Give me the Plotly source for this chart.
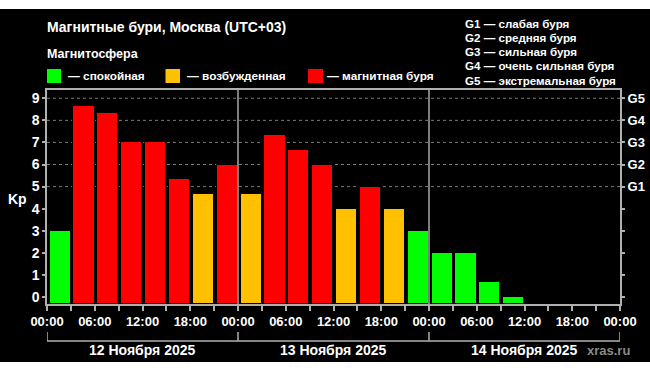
import plotly.graph_objects as go

# ---- data ----
hours = [0, 3, 6, 9, 12, 15, 18, 21,
         24, 27, 30, 33, 36, 39, 42, 45,
         48, 51, 54, 57]
kp = [3, 8.67, 8.33, 7, 7, 5.33, 4.67, 6,
      4.67, 7.33, 6.67, 6, 4, 5, 4, 3,
      2, 2, 0.67, 0]
day_labels = ["12 Ноября 2025", "13 Ноября 2025", "14 Ноября 2025"]
day_starts = [0, 24, 48, 72]
tick_hours = list(range(0, 73, 3))
g_levels = [5, 6, 7, 8, 9]
g_names = ["G1", "G2", "G3", "G4", "G5"]
g_desc = ["G1 — слабая буря", "G2 — средняя буря", "G3 — сильная буря",
          "G4 — очень сильная буря", "G5 — экстремальная буря"]
legend_items = [("— спокойная", "#00FF00"), ("— возбужденная", "#FFC000"),
                ("— магнитная буря", "#FF0000")]

GREEN, YELLOW, RED = "#00FF00", "#FFC000", "#FF0000"
def color_for(v):
    if v < 4:
        return GREEN
    if v < 5:
        return YELLOW
    return RED

W, H = 650, 372
L, R, T, B = 47, 30, 90, 68
PW, PH = W - L - R, H - T - B
def px(x):
    return (x - L) / PW
def py(y):
    return (H - B - y) / PH

YMIN, YMAX = -0.32, 9.375
FONT = "Liberation Sans"

fig = go.Figure()
fig.add_trace(go.Bar(
    x=[h + 1.65 for h in hours],
    y=[v - YMIN for v in kp],
    base=YMIN,
    width=2.66,
    marker=dict(color=[color_for(v) for v in kp], line=dict(color="#000000", width=1)),
    hoverinfo="skip",
    showlegend=False,
))
# invisible trace for right axis
fig.add_trace(go.Scatter(x=[0], y=[0], yaxis="y2", mode="markers",
                         marker=dict(opacity=0), showlegend=False, hoverinfo="skip"))

shapes = []
# black background panel
shapes.append(dict(type="rect", xref="paper", yref="paper",
                   x0=px(0), x1=px(W), y0=py(362), y1=py(9),
                   fillcolor="#000000", line=dict(width=0), layer="below"))
# dotted grid at G levels
for g in g_levels:
    shapes.append(dict(type="line", xref="paper", yref="y", x0=0, x1=1, y0=g, y1=g,
                       line=dict(color="#7a7a7a", width=1, dash="dot"), layer="below"))
# day separators
for d in day_starts[1:-1]:
    shapes.append(dict(type="line", xref="x", yref="paper", x0=d, x1=d, y0=0, y1=1,
                       line=dict(color="#a8a8a8", width=1.5), layer="above"))
# date bracket
shapes.append(dict(type="line", xref="x", yref="paper", x0=day_starts[0], x1=day_starts[-1],
                   y0=py(341), y1=py(341), line=dict(color="#b0b0b0", width=1.5)))
for d in day_starts:
    shapes.append(dict(type="line", xref="x", yref="paper", x0=d, x1=d,
                       y0=py(341), y1=py(332), line=dict(color="#b0b0b0", width=1.5)))
# legend squares
sq = [(47, 61), (165.5, 180), (308, 323)]
for (x0, x1), (_, c) in zip(sq, legend_items):
    shapes.append(dict(type="rect", xref="paper", yref="paper",
                       x0=px(x0), x1=px(x1), y0=py(83), y1=py(69),
                       fillcolor=c, line=dict(width=0)))

ann = []
def text(x, y, s, size=12, color="#ffffff", xanchor="left"):
    ann.append(dict(x=px(x), y=py(y), xref="paper", yref="paper", text=s, showarrow=False,
                    xanchor=xanchor, yanchor="middle",
                    font=dict(family=FONT, size=size, color=color, weight="bold")))

text(45, 27, "Магнитные бури, Москва (UTC+03)", size=14)
text(45, 54, "Магнитосфера", size=12.5)
for (s, _), tx in zip(legend_items, [65.5, 184.5, 324.5]):
    text(tx, 76, s, size=11.8)
for i, s in enumerate(g_desc):
    text(463, 23 + i * 14.25, s, size=11.6)
text(17, 199, "Kp", size=14, xanchor="center")
for i, s in enumerate(day_labels):
    cx = (day_starts[i] + day_starts[i + 1]) / 2
    ann.append(dict(x=cx, y=py(350), xref="x", yref="paper", text=s, showarrow=False,
                    xanchor="center", yanchor="middle",
                    font=dict(family=FONT, size=14, color="#ffffff", weight="bold")))
text(608, 350, "xras.ru", size=13, color="#8a8a8a", xanchor="center")

fig.update_layout(
    width=W, height=H,
    margin=dict(l=L, r=R, t=T, b=B, pad=0, autoexpand=False),
    paper_bgcolor="#ffffff",
    plot_bgcolor="#000000",
    shapes=shapes,
    annotations=ann,
    bargap=0,
    xaxis=dict(range=[0, 72], tickvals=tick_hours, automargin=False,
               ticktext=[f"{h % 24:02d}:00" if h % 6 == 0 else "" for h in tick_hours],
               ticks="outside", ticklen=5, tickwidth=1.5, tickcolor="#b0b0b0",
               showline=True, linecolor="#b0b0b0", linewidth=1.5, mirror=True,
               showgrid=False, zeroline=False,
               tickfont=dict(family=FONT, size=13, color="#ffffff", weight="bold")),
    yaxis=dict(range=[YMIN, YMAX], tickvals=list(range(10)), automargin=False,
               ticks="outside", ticklen=3, tickwidth=1.5, tickcolor="#b0b0b0",
               showline=True, linecolor="#b0b0b0", linewidth=1.5, mirror=True,
               showgrid=False, zeroline=False,
               tickfont=dict(family=FONT, size=14, color="#ffffff", weight="bold")),
    yaxis2=dict(range=[YMIN, YMAX], overlaying="y", side="right", automargin=False,
                tickvals=list(range(10)),
                ticktext=["" if v not in g_levels else g_names[g_levels.index(v)] for v in range(10)],
                ticks="outside", ticklen=4, tickwidth=1.5, tickcolor="#b0b0b0",
                ticklabelstandoff=0,
                showline=False, showgrid=False, zeroline=False,
                tickfont=dict(family=FONT, size=13, color="#ffffff", weight="bold")),
)

fig.write_html("out.html")
